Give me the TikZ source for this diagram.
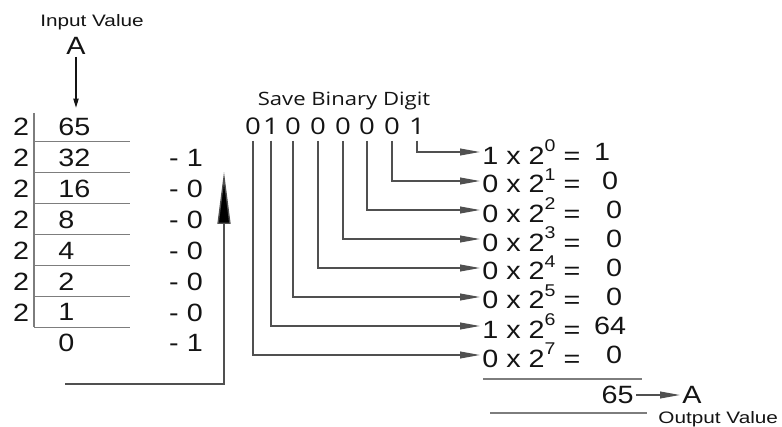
\documentclass[tikz,border=0pt]{standalone}
\usepackage{fontspec}
\setmainfont[FakeStretch=1.15]{Liberation Sans}
\newfontfamily\lblfont[FakeStretch=1.25]{Liberation Sans}
\newfontfamily\savefont[FakeStretch=1.2]{Open Sans}
\usepackage{xcolor}
\usepackage{tikz}
\usetikzlibrary{arrows.meta,positioning,calc}
\definecolor{InkC}{RGB}{20,20,20}
\definecolor{WireC}{RGB}{80,80,80}
\definecolor{RuleC}{RGB}{125,125,125}
\newcommand{\pw}[1]{\raisebox{0.95ex}{\fontsize{8.5}{9}\selectfont #1}}
\tikzset{
  num/.style={inner sep=1pt,font=\fontsize{12.5}{14}\selectfont,text=InkC},
  lbl/.style={inner sep=1pt,font=\lblfont\fontsize{8.3}{10}\selectfont,text=InkC},
  bit/.style={inner sep=1pt,font=\savefont\fontsize{11.5}{13}\selectfont,text=InkC},
  savelbl/.style={bit,font=\savefont\fontsize{9.2}{11}\selectfont},
  rule/.style={draw=RuleC,line width=0.6pt},
  wire/.style={-{Triangle[length=10pt,width=3.4pt]},draw=WireC,line width=0.7pt},
  feed/.style={-{Triangle[length=4.5pt,width=2.6pt]},draw=InkC,line width=0.6pt},
  back/.style={-{Triangle[length=26pt,width=6.5pt,fill=black]},draw=WireC,line width=0.7pt},
}

\begin{document}
\begin{tikzpicture}[x=0.5pt,y=-0.5pt]
  \useasboundingbox (0,0) rectangle (782,427);

  % repeated division by 2
  \node[lbl] (inlbl) at (92,22) {Input Value};
  \node[num] (in) at (76,46) {A};
  \foreach \q [count=\i from 0] in {65,32,16,8,4,2,1,0}
    \node[num,anchor=west] (q\i) at (56,{127+30.9*\i}) {\q};
  \foreach \i in {0,...,6}
    \node[num] (d\i) at (21,{127+30.9*\i}) {2};
  \foreach \i in {1,...,7}
    \draw[rule] (34,{111+30.9*\i}) -- (130,{111+30.9*\i});
  \draw[rule] (34,113) -- (34,327);
  \draw[feed,shorten >=4pt] (in.south) -- (in.south |- q0.north);

  % remainders, read from the bottom up
  \foreach \r [count=\i] in {1,0,0,0,0,0,1}
    \node[num] (r\i) at (186,{127+30.9*\i}) {- \r};
  \coordinate (lsb) at (65,384);
  \coordinate (msb) at (224,172);
  \draw[back] (lsb) -| (msb);

  % stored bits and their weights
  \node[savelbl] (savetxt) at (344,101) {Save Binary Digit};
  \foreach \b/\bx [count=\k from 0] in {1/417,0/392,0/367,0/343,0/318,0/293,1/271,0/253}
    \node[bit] (b\k) at (\bx,126) {\b};
  \foreach \b/\v/\vx [count=\k from 0] in
      {1/1/602,0/0/610,0/0/614,0/0/614,0/0/614,0/0/614,1/64/610,0/0/614} {
    \node[num,anchor=west] (t\k) at (480,{152+29*\k}) {\b\ x 2\pw{\k}\ =};
    \node[num] (v\k) at (\vx,{152+29*\k}) {\v};
    \draw[wire,shorten <=2pt] (b\k.south) |- (t\k.west);
  }

  % sum of the terms
  \draw[rule] (483,379) -- (642,379);
  \node[num,anchor=east] (sum) at (636,395) {65};
  \node[num] (out) at (692,395) {A};
  \draw[wire] (sum.east) -- (out.west);
  \draw[rule] (490,413) -- (647,413);
  \node[lbl,anchor=west] (outlbl) at (656,419) {Output Value};
\end{tikzpicture}
\end{document}
